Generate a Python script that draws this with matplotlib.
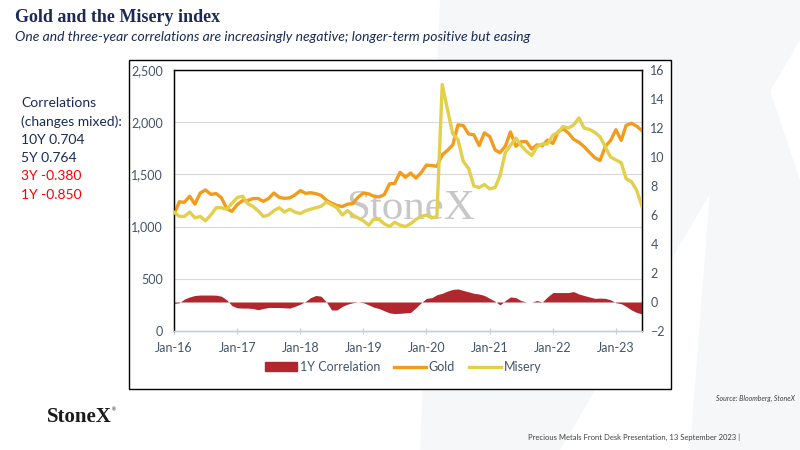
import numpy as np
import pandas as pd
import matplotlib
matplotlib.use('Agg')
import matplotlib.pyplot as plt
import matplotlib.dates as mdates
from matplotlib.patches import Rectangle, Polygon
from matplotlib.lines import Line2D
from matplotlib.patches import Patch

plt.rcParams['font.family'] = ['Lato', 'DejaVu Sans']

# monthly data, Jan-2016 .. Jun-2023
dates = pd.date_range('2016-01-01', periods=90, freq='MS')

gold = [1118, 1238, 1233, 1291, 1215, 1322, 1351, 1309, 1316, 1277, 1173, 1146,
        1211, 1249, 1249, 1268, 1269, 1242, 1269, 1322, 1280, 1271, 1275, 1303,
        1345, 1318, 1325, 1315, 1299, 1253, 1224, 1202, 1192, 1215, 1221, 1282,
        1321, 1313, 1292, 1284, 1305, 1409, 1414, 1520, 1472, 1513, 1464, 1517,
        1589, 1585, 1577, 1686, 1730, 1781, 1975, 1968, 1887, 1879, 1777, 1898,
        1863, 1734, 1708, 1769, 1907, 1770, 1814, 1814, 1743, 1783, 1774, 1829,
        1797, 1909, 1937, 1897, 1837, 1807, 1766, 1711, 1660, 1633, 1769, 1824,
        1928, 1826, 1969, 1990, 1962, 1919]

misery = [6.2, 5.9, 5.9, 6.2, 5.8, 5.9, 5.6, 6.0, 6.5, 6.5, 6.4, 6.8,
          7.2, 7.3, 6.8, 6.6, 6.3, 5.9, 6.0, 6.3, 6.5, 6.2, 6.4, 6.2,
          6.1, 6.3, 6.4, 6.5, 6.6, 6.9, 6.7, 6.5, 6.0, 6.3, 6.0, 5.8,
          5.6, 5.3, 5.7, 5.7, 5.4, 5.2, 5.5, 5.3, 5.2, 5.4, 5.7, 5.9,
          6.0, 5.8, 5.9, 15.0, 13.3, 11.6, 11.2, 9.7, 9.2, 8.0, 7.9, 8.1,
          7.8, 7.9, 8.7, 10.3, 10.8, 11.3, 10.8, 10.4, 10.1, 10.7, 10.9, 10.9,
          11.5, 11.7, 12.1, 12.0, 12.2, 12.7, 12.0, 11.9, 11.7, 11.4, 10.7, 10.0,
          9.8, 9.6, 8.5, 8.3, 7.7, 6.6]

corr_1y = [-0.10, -0.05, 0.20, 0.35, 0.45, 0.48, 0.48, 0.48, 0.47, 0.40, 0.15, -0.25,
           -0.40, -0.42, -0.42, -0.45, -0.53, -0.45, -0.38, -0.38, -0.38, -0.40, -0.42, -0.30,
           -0.15, 0.05, 0.30, 0.45, 0.40, 0.00, -0.55, -0.55, -0.30, -0.15, -0.05, 0.00,
           -0.05, -0.20, -0.35, -0.45, -0.60, -0.75, -0.80, -0.78, -0.75, -0.72, -0.40, -0.05,
           0.25, 0.30, 0.50, 0.60, 0.75, 0.87, 0.90, 0.80, 0.70, 0.60, 0.55, 0.45,
           0.25, 0.05, -0.20, 0.10, 0.35, 0.30, 0.10, 0.00, 0.00, 0.10, 0.00, 0.35,
           0.65, 0.65, 0.65, 0.65, 0.72, 0.55, 0.45, 0.35, 0.25, 0.27, 0.25, 0.15,
           -0.05, -0.12, -0.30, -0.55, -0.72, -0.82]

left_ticks = [0, 500, 1000, 1500, 2000, 2500]
right_ticks = [-2, 0, 2, 4, 6, 8, 10, 12, 14, 16]

c_gold = '#F39C1B'
c_misery = '#E2CF4B'
c_corr = '#B0272D'
c_text = '#44546A'
c_navy = '#1B2A56'

W, H = 800, 450
fig = plt.figure(figsize=(8, 4.5), dpi=100)
fig.patch.set_facecolor('white')

def fx(x): return x / W
def fy(y): return 1 - y / H

# faint background logo strokes
bg = '#F6F7F8'
fig.patches.append(Polygon([(fx(440), fy(0)), (fx(800), fy(0)), (fx(800), fy(40)),
                            (fx(560), fy(450)), (fx(420), fy(450))],
                           closed=True, transform=fig.transFigure, fc=bg, ec='none', zorder=-3))
fig.patches.append(Polygon([(fx(720), fy(60)), (fx(760), fy(60)), (fx(800), fy(180)),
                            (fx(800), fy(450)), (fx(690), fy(450))],
                           closed=True, transform=fig.transFigure, fc=bg, ec='none', zorder=-3))

# chart box
fig.patches.append(Rectangle((fx(129), fy(389)), (671 - 129) / W, (389 - 60) / H,
                             transform=fig.transFigure, fc='white', ec='black', lw=1.0, zorder=-1))

ax = fig.add_axes([fx(174), fy(331), (642 - 174) / W, (331 - 70) / H])
ax.set_facecolor('white')
ax2 = ax.twinx()

ax.plot(dates, gold, color=c_gold, lw=2.4, zorder=3, solid_joinstyle='round')
ax2.fill_between(dates, 0, corr_1y, color=c_corr, lw=0, zorder=1)
ax2.plot(dates, misery, color=c_misery, lw=2.4, zorder=4, solid_joinstyle='round')

ax.set_ylim(0, 2500)
ax2.set_ylim(-2, 16)
ax.set_yticks(left_ticks)
ax.set_yticklabels([f'{v:,}' for v in left_ticks])
ax2.set_yticks(right_ticks)
ax.set_xlim(dates[0], dates[-1])

ax.xaxis.set_major_locator(mdates.YearLocator(month=1))
ax.xaxis.set_major_formatter(mdates.DateFormatter('Jan-%y'))

ax.grid(axis='y', color='#D9D9D9', lw=0.8)
ax.set_axisbelow(True)

for a in (ax, ax2):
    for s in ('left', 'top', 'right'):
        a.spines[s].set_color('black')
        a.spines[s].set_linewidth(0.9)
    a.spines['bottom'].set_color('#C5D0DE')
    a.spines['bottom'].set_linewidth(1.0)

ax.tick_params(axis='y', length=0, labelsize=9, labelcolor=c_text, pad=8)
ax2.tick_params(axis='y', length=0, labelsize=9, labelcolor=c_text, pad=6)
ax.tick_params(axis='x', length=4, color='#C5D0DE', direction='inout',
               labelsize=9, labelcolor=c_text, pad=6)

# watermark
ax.text(0.505, 0.47, 'StoneX', transform=ax.transAxes, ha='center', va='center',
        fontsize=31, color='#BEBEBE', family='Liberation Serif', alpha=0.85, zorder=2)

# legend
handles = [Patch(color=c_corr, label='1Y Correlation'),
           Line2D([], [], color=c_gold, lw=2.4, label='Gold'),
           Line2D([], [], color=c_misery, lw=2.4, label='Misery')]
leg = fig.legend(handles=handles, loc='center', bbox_to_anchor=(fx(403), fy(367)),
                 ncol=3, frameon=False, fontsize=9, handlelength=2.6,
                 handletextpad=0.2, columnspacing=1.1)
for t in leg.get_texts():
    t.set_color(c_text)

# titles
fig.text(fx(15), fy(17), 'Gold and the Misery index', ha='left', va='center',
         fontsize=13, fontweight='bold', family='Liberation Serif', color=c_navy)
fig.text(fx(15), fy(37), 'One and three-year correlations are increasingly negative; '
         'longer-term positive but easing', ha='left', va='center',
         fontsize=10, style='italic', color=c_navy)

# correlation notes
notes = [('Correlations', c_navy), ('(changes mixed):', c_navy),
         ('10Y 0.704', c_navy), ('5Y 0.764', c_navy),
         ('3Y -0.380', '#FF0000'), ('1Y -0.850', '#FF0000')]
for i, (txt, col) in enumerate(notes):
    fig.text(fx(21), fy(103 + i * 18.3), txt, ha='left', va='center',
             fontsize=10, color=col)

# footer
fig.text(fx(795), fy(398), 'Source: Bloomberg, StoneX', ha='right', va='center',
         fontsize=5, style='italic', color='#404040')
fig.text(fx(47), fy(417), 'StoneX', ha='left', va='center', fontsize=15,
         fontweight='bold', family='Liberation Serif', color='#1A1A1A')
fig.text(fx(112), fy(410), '®', ha='left', va='center', fontsize=3.5, color='#1A1A1A')
fig.text(fx(740), fy(437), 'Precious Metals Front Desk Presentation, 13 September 2023 |',
         ha='right', va='center', fontsize=5.5, color='#404040')

fig.savefig('out.png', dpi=100)
